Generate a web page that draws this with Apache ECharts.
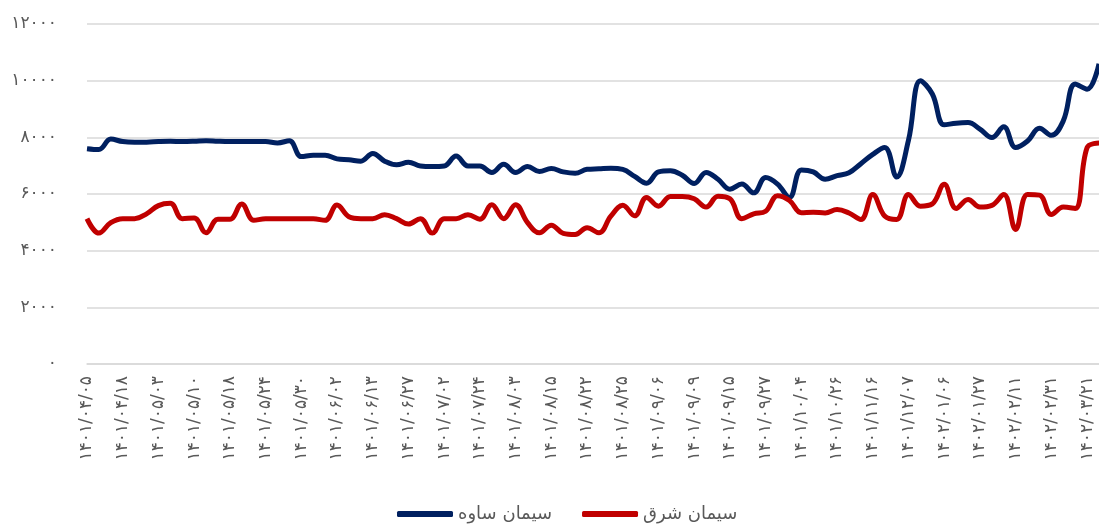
<!DOCTYPE html>
<html>
<head>
<meta charset="utf-8">
<script src="https://cdn.jsdelivr.net/npm/echarts@6/dist/echarts.min.js"></script>
<style>
    html, body { margin: 0; padding: 0; background: #fff; }
    #chart { width: 1099px; height: 524px; }
</style>
</head>
<body>
<div id="chart"></div>
<script>
// برچسب‌های محور افقی (هر سه نقطه یک برچسب)
const tickLabels = [
    '۱۴۰۱/۰۴/۰۵', '۱۴۰۱/۰۴/۱۸', '۱۴۰۱/۰۵/۰۳', '۱۴۰۱/۰۵/۱۰', '۱۴۰۱/۰۵/۱۸',
    '۱۴۰۱/۰۵/۲۴', '۱۴۰۱/۰۵/۳۰', '۱۴۰۱/۰۶/۰۲', '۱۴۰۱/۰۶/۱۳', '۱۴۰۱/۰۶/۲۷',
    '۱۴۰۱/۰۷/۰۲', '۱۴۰۱/۰۷/۲۴', '۱۴۰۱/۰۸/۰۳', '۱۴۰۱/۰۸/۱۵', '۱۴۰۱/۰۸/۲۲',
    '۱۴۰۱/۰۸/۲۵', '۱۴۰۱/۰۹/۰۶', '۱۴۰۱/۰۹/۰۹', '۱۴۰۱/۰۹/۱۵', '۱۴۰۱/۰۹/۲۷',
    '۱۴۰۱/۱۰/۰۴', '۱۴۰۱/۱۰/۲۶', '۱۴۰۱/۱۱/۱۶', '۱۴۰۱/۱۲/۰۷', '۱۴۰۲/۰۱/۰۶',
    '۱۴۰۲/۰۱/۲۷', '۱۴۰۲/۰۲/۱۱', '۱۴۰۲/۰۲/۳۱', '۱۴۰۲/۰۳/۲۱'
];

const seriesNames = ['سیمان ساوه', 'سیمان شرق'];

// سیمان ساوه
const saveh = [
    7600, 7570, 7940, 7850, 7830, 7830, 7850, 7860, 7850, 7860,
    7880, 7860, 7850, 7850, 7850, 7850, 7800, 7880, 7320, 7370,
    7370, 7240, 7210, 7160, 7430, 7160, 7030, 7120, 6990, 6970,
    6990, 7340, 6990, 6990, 6760, 7050, 6760, 6970, 6790, 6900,
    6780, 6730, 6870, 6890, 6910, 6870, 6620, 6380, 6780, 6820,
    6660, 6370, 6760, 6520, 6170, 6350, 6040, 6580, 6350, 5880,
    6850, 6780, 6520, 6650, 6750, 7070, 7400, 7640, 6600, 7900,
    10000, 9530, 8440, 8500, 8520, 8290, 7990, 8370, 7640, 7870,
    8320, 8070, 8580, 9880, 9700, 10600
];

// سیمان شرق
const shargh = [
    5130, 4620, 4990, 5130, 5130, 5300, 5590, 5670, 5130, 5150,
    4630, 5110, 5110, 5650, 5070, 5130, 5130, 5130, 5130, 5130,
    5070, 5610, 5200, 5130, 5130, 5270, 5130, 4940, 5130, 4620,
    5130, 5130, 5270, 5110, 5620, 5130, 5620, 4990, 4630, 4900,
    4610, 4570, 4810, 4630, 5220, 5600, 5230, 5880, 5570, 5910,
    5910, 5830, 5540, 5920, 5830, 5130, 5300, 5390, 5940, 5770,
    5340, 5360, 5330, 5450, 5330, 5100, 5980, 5220, 5100, 5980,
    5570, 5650, 6340, 5490, 5810, 5540, 5600, 5980, 4750, 5980,
    5960, 5280, 5540, 5490, 7640, 7800
];

const FA_DIGITS = '۰۱۲۳۴۵۶۷۸۹';
function toFa(n) {
    return String(n).replace(/[0-9]/g, d => FA_DIGITS[d]);
}

function initChart() {
    const myChart = echarts.init(document.getElementById('chart'));

    // دسته‌ها: برچسب فقط روی هر سومین نقطه
    const categories = saveh.map((_, i) => (i % 3 === 0 && tickLabels[i / 3]) ? tickLabels[i / 3] : '');

    const font = '"DejaVu Sans", "Noto Sans", sans-serif';

    const option = {
        animation: false,
        color: ['#002060', '#C00000'],
        grid: {
            left: 87,
            right: -5,
            top: 24,
            bottom: 160
        },
        legend: {
            data: seriesNames,
            left: 392,
            top: 500,
            icon: 'roundRect',
            itemWidth: 56,
            itemHeight: 6,
            itemGap: 30,
            textStyle: {
                color: '#595959',
                fontSize: 18,
                fontFamily: font
            }
        },
        xAxis: {
            type: 'category',
            data: categories,
            boundaryGap: false,
            axisLine: { lineStyle: { color: '#d9d9d9', width: 1.5 } },
            axisTick: { show: false },
            axisLabel: {
                interval: 2,
                rotate: 90,
                margin: 12,
                color: '#595959',
                fontSize: 17,
                fontFamily: font
            },
            splitLine: { show: false }
        },
        yAxis: {
            type: 'value',
            min: 0,
            max: 12000,
            interval: 2000,
            axisLine: { show: false },
            axisTick: { show: false },
            axisLabel: {
                margin: 30,
                color: '#595959',
                fontSize: 17,
                fontFamily: font,
                formatter: v => toFa(v)
            },
            splitLine: { lineStyle: { color: '#d9d9d9', width: 1.5 } }
        },
        series: [
            {
                name: seriesNames[0],
                type: 'line',
                data: saveh,
                smooth: 0.4,
                symbol: 'none',
                lineStyle: { width: 5, color: '#002060' }
            },
            {
                name: seriesNames[1],
                type: 'line',
                data: shargh,
                smooth: 0.4,
                symbol: 'none',
                lineStyle: { width: 5, color: '#C00000' }
            }
        ]
    };

    myChart.setOption(option, true);
}

initChart();
</script>
</body>
</html>
